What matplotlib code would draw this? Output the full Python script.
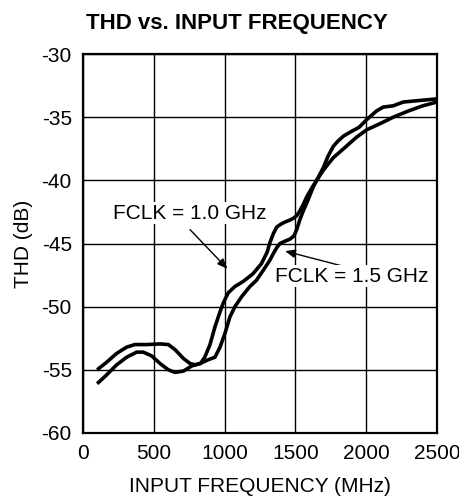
import matplotlib
matplotlib.use('Agg')
import matplotlib.pyplot as plt

plt.rcParams['font.family'] = ['Liberation Sans', 'DejaVu Sans']
plt.rcParams['axes.unicode_minus'] = False

# FCLK = 1.0 GHz
freq_a = [100, 167, 238, 309, 367, 450, 544, 603, 650, 709, 756, 791, 830, 860,
          897, 932, 968, 991, 1026, 1073, 1132, 1200, 1260, 1300, 1321, 1345,
          1368, 1400, 1427, 1460, 1486, 1510, 1532, 1556, 1580, 1627, 1697, 1768,
          1850, 1930, 2003, 2100, 2191, 2300, 2400, 2500]
thd_a = [-55.0, -54.4, -53.7, -53.2, -53.0, -53.0, -52.95, -53.0, -53.4, -54.1,
         -54.5, -54.6, -54.5, -54.0, -53.0, -51.6, -50.4, -49.7, -48.9, -48.4,
         -48.0, -47.4, -46.6, -45.7, -44.9, -44.2, -43.7, -43.45, -43.3, -43.15,
         -43.0, -42.8, -42.4, -41.9, -41.3, -40.4, -39.2, -38.2, -37.4, -36.6,
         -36.0, -35.5, -35.0, -34.5, -34.1, -33.8]

# FCLK = 1.5 GHz
freq_b = [100, 167, 238, 309, 379, 426, 485, 544, 603, 650, 709, 767, 826, 885,
          932, 968, 1003, 1038, 1073, 1121, 1179, 1226, 1280, 1321, 1344, 1370,
          1391, 1430, 1462, 1490, 1509, 1532, 1556, 1580, 1627, 1697, 1730, 1768,
          1800, 1839, 1900, 1950, 2003, 2074, 2120, 2191, 2262, 2356, 2500]
thd_b = [-56.1, -55.4, -54.6, -54.0, -53.6, -53.6, -53.9, -54.5, -55.0, -55.2,
         -55.1, -54.7, -54.5, -54.2, -54.0, -53.2, -52.1, -50.8, -50.0, -49.2,
         -48.4, -47.9, -47.0, -46.3, -45.8, -45.3, -45.0, -44.8, -44.65, -44.4,
         -43.9, -43.1, -42.4, -41.8, -40.5, -39.0, -38.1, -37.3, -36.9, -36.5,
         -36.1, -35.8, -35.2, -34.5, -34.2, -34.1, -33.8, -33.7, -33.55]

x_ticks = [0, 500, 1000, 1500, 2000, 2500]
y_ticks = [-60, -55, -50, -45, -40, -35, -30]

fig = plt.figure(figsize=(4.6, 4.97), dpi=100)
ax = fig.add_axes([0.1804, 0.1288, 0.7696, 0.7625])

for fx, fy in [(freq_a, thd_a), (freq_b, thd_b)]:
    ax.plot(fx, fy, color='black', lw=2.6, solid_joinstyle='round',
            solid_capstyle='butt', zorder=3)

ax.set_xlim(0, 2500)
ax.set_ylim(-60, -30)
ax.set_xticks(x_ticks)
ax.set_yticks(y_ticks)
ax.tick_params(length=0, labelsize=15, pad=8)
ax.grid(True, color='black', lw=1.0)
for s in ax.spines.values():
    s.set_linewidth(1.6)

ax.set_xlabel('INPUT FREQUENCY (MHz)', fontsize=15, labelpad=10)
ax.set_ylabel('THD (dB)', fontsize=15, labelpad=6)
fig.text(0.514, 0.952, 'THD vs. INPUT FREQUENCY', fontsize=16, fontweight='bold',
         ha='center', va='center')

arrow = dict(arrowstyle='-|>,head_length=0.6,head_width=0.25', color='black', lw=1.0,
             shrinkA=0, shrinkB=0)
ax.annotate('', xy=(1020, -47.0), xytext=(756, -43.9), arrowprops=arrow)
ax.text(756, -42.6, 'FCLK = 1.0 GHz', fontsize=15, ha='center', va='center',
        bbox=dict(facecolor='white', edgecolor='none', pad=1), zorder=4)
ax.annotate('', xy=(1427, -45.6), xytext=(1838, -46.8), arrowprops=arrow)
ax.text(1898, -47.6, 'FCLK = 1.5 GHz', fontsize=15, ha='center', va='center',
        bbox=dict(facecolor='white', edgecolor='none', pad=1), zorder=4)

fig.savefig('out.png', dpi=100)
